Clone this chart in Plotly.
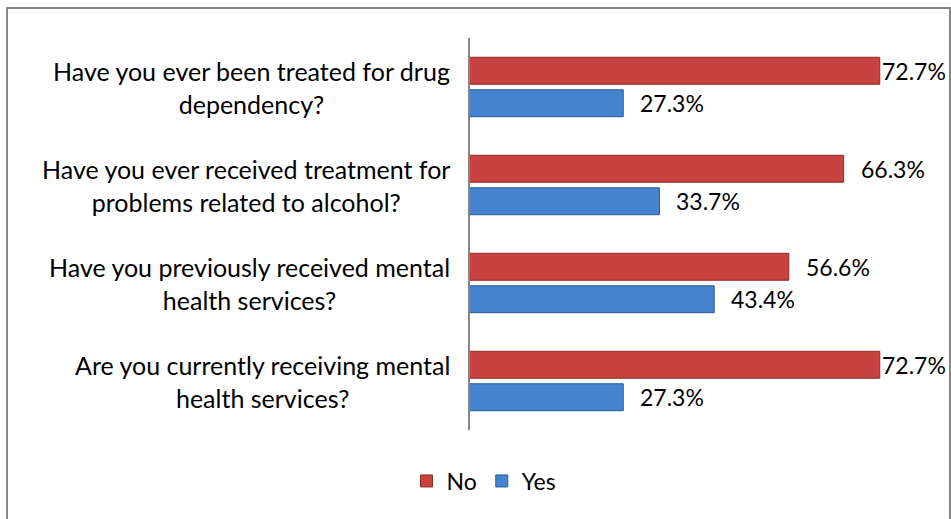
import plotly.graph_objects as go

# Survey questions (top to bottom) and response shares in percent
questions = [
    "Have you ever been treated for drug<br>dependency?",
    "Have you ever received treatment for<br>problems related to alcohol?",
    "Have you previously received mental<br>health services?",
    "Are you currently receiving mental<br>health services?",
]
no_pct = [72.7, 66.3, 56.6, 72.7]
yes_pct = [27.3, 33.7, 43.4, 27.3]
series_names = ["No", "Yes"]

# Figure geometry (pixels)
W, H = 951, 519
PL, PR, PT, PB = 469, 921, 38, 430
X_MAX = 80
FONT = "Lato"
TXT = "#000000"

RED = "#C8423F"
RED_EDGE = "#8E2B29"
BLUE = "#4683CE"
BLUE_EDGE = "#2C5A92"

cats = list(range(len(questions)))

fig = go.Figure()
fig.add_trace(go.Bar(
    name=series_names[0], y=cats, x=no_pct, orientation="h",
    marker=dict(color=RED, line=dict(color=RED_EDGE, width=1)),
    hoverinfo="skip",
))
fig.add_trace(go.Bar(
    name=series_names[1], y=cats, x=yes_pct, orientation="h",
    marker=dict(color=BLUE, line=dict(color=BLUE_EDGE, width=1)),
    hoverinfo="skip",
))

plot_w = PR - PL
plot_h = PB - PT
slot_px = plot_h / len(questions) * (1 - 0.337) / 2
label_w = 63
right_limit = 943


def label_shift(v):
    end_px = PL + v / X_MAX * plot_w
    return 15 if end_px + 15 + label_w <= right_limit else right_limit - label_w - end_px


annotations = []
for i, (n, y) in enumerate(zip(no_pct, yes_pct)):
    for v, ys in ((n, slot_px / 2), (y, -slot_px / 2)):
        annotations.append(dict(
            x=v, y=i, xref="x", yref="y", text=f"{v:.1f}%",
            showarrow=False, xanchor="left", yanchor="middle",
            xshift=label_shift(v), yshift=ys,
            font=dict(family=FONT, size=23, color=TXT),
        ))
    # category label, centred lines, right edge just left of the axis
    annotations.append(dict(
        x=0, y=i, xref="paper", yref="y", text=questions[i],
        showarrow=False, xanchor="right", yanchor="middle", align="center",
        xshift=-17, font=dict(family=FONT, size=25, color=TXT),
    ))

# outer chart border
border = dict(
    type="rect", xref="paper", yref="paper",
    x0=(7 - PL) / plot_w, x1=(950 - PL) / plot_w,
    y0=(PB - 530) / plot_h, y1=(PB - 8) / plot_h,
    line=dict(color="#868686", width=2), fillcolor="rgba(0,0,0,0)", layer="below",
)
# vertical category axis line
axis_line = dict(
    type="line", xref="paper", yref="paper", x0=0, x1=0, y0=0, y1=1,
    line=dict(color="#868686", width=2),
)

fig.update_layout(
    width=W, height=H,
    margin=dict(l=PL, r=W - PR, t=PT, b=H - PB, pad=0),
    paper_bgcolor="white", plot_bgcolor="white",
    barmode="group", bargap=0.337, bargroupgap=0.17,
    xaxis=dict(range=[0, X_MAX], visible=False, fixedrange=True),
    yaxis=dict(range=[len(questions) - 0.5, -0.5], visible=False, fixedrange=True),
    showlegend=True,
    legend=dict(
        orientation="h", x=(484 - PL) / plot_w, xanchor="center",
        y=-(481 - PB) / plot_h, yanchor="middle",
        font=dict(family=FONT, size=23, color=TXT),
        traceorder="normal", itemwidth=30,
    ),
    annotations=annotations,
    shapes=[border, axis_line],
)

fig.write_html("out.html")
